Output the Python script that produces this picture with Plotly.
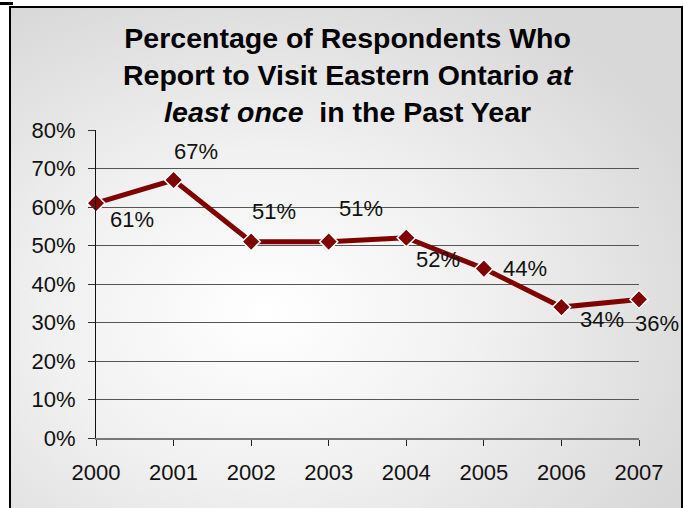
import plotly.graph_objects as go
import base64

years = [2000, 2001, 2002, 2003, 2004, 2005, 2006, 2007]
share_pct = [61, 67, 51, 51, 52, 44, 34, 36]
y_ticks = [0, 10, 20, 30, 40, 50, 60, 70, 80]
y_tick_labels = [f"{v}%" for v in y_ticks]

# label offsets (pixels) relative to each marker
label_dx = [36, 22, 23, 32, 32, 41, 41, 18]
label_dy = [-16, 29, 30, 33, -22, 0, -12, -24]

W, H = 684, 508
L, R, T, B = 96, 45, 130, 70
PW, PH = W - L - R, H - T - B

def fx(px):
    return (px - L) / PW

def fy(py):
    return 1 - (py - T) / PH

FONT = "Liberation Sans, Arial, sans-serif"
LINE = "#7f0000"

# soft radial backdrop for the chart frame
svg = (
    '<svg xmlns="http://www.w3.org/2000/svg" width="672" height="510" viewBox="0 0 672 510" preserveAspectRatio="none">'
    '<defs><radialGradient id="g" cx="0.38" cy="0.6" r="0.7">'
    '<stop offset="0" stop-color="#ffffff"/>'
    '<stop offset="0.45" stop-color="#f1f1f1"/>'
    '<stop offset="1" stop-color="#d8d8d8"/>'
    '</radialGradient></defs>'
    '<rect width="672" height="510" fill="url(#g)"/></svg>'
)
bg_src = "data:image/svg+xml;base64," + base64.b64encode(svg.encode()).decode()

fig = go.Figure()
fig.add_trace(go.Scatter(
    x=years, y=share_pct, mode="lines+markers",
    line=dict(color=LINE, width=5),
    marker=dict(symbol="diamond", size=14, color=LINE,
                line=dict(color="white", width=1.5)),
    cliponaxis=False, hoverinfo="skip", showlegend=False,
))

annotations = []
for x, v, dx, dy in zip(years, share_pct, label_dx, label_dy):
    annotations.append(dict(
        x=x, y=v, xref="x", yref="y", text=f"{v}%", showarrow=False,
        xshift=dx, yshift=dy, font=dict(family=FONT, size=22, color="#111111"),
    ))

annotations.append(dict(
    x=fx(348), y=fy(75), xref="paper", yref="paper", showarrow=False,
    xanchor="center", yanchor="middle",
    text="<b>Percentage of Respondents Who<br>Report to Visit Eastern Ontario <i>at</i><br>"
         "<i>least once</i>  in the Past Year</b>",
    font=dict(family=FONT, size=28.5, color="#000000"),
))

shapes = [
    # chart frame
    dict(type="rect", xref="paper", yref="paper",
         x0=fx(10), x1=fx(682), y0=fy(540), y1=fy(7),
         line=dict(color="#000000", width=2), fillcolor="rgba(0,0,0,0)", layer="above"),
    dict(type="rect", xref="paper", yref="paper",
         x0=fx(0), x1=fx(13), y0=fy(5), y1=fy(2),
         line=dict(width=0), fillcolor="#000000", layer="above"),
]

fig.update_layout(
    width=W, height=H,
    margin=dict(l=L, r=R, t=T, b=B),
    paper_bgcolor="white", plot_bgcolor="rgba(0,0,0,0)",
    font=dict(family=FONT, size=22, color="#000000"),
    images=[dict(source=bg_src, xref="paper", yref="paper",
                 x=fx(10), y=fy(7), sizex=fx(682) - fx(10), sizey=fy(7) - fy(517),
                 xanchor="left", yanchor="top", sizing="stretch", layer="below")],
    annotations=annotations,
    shapes=shapes,
    xaxis=dict(
        range=[2000, 2007], tickvals=years, ticktext=[str(y) for y in years],
        showgrid=False, zeroline=False,
        showline=True, linecolor="#777777", linewidth=2,
        ticks="outside", ticklen=6, tickcolor="#222222", tickwidth=1,
        ticklabelstandoff=8, tickfont=dict(family=FONT, size=22, color="#111111"),
    ),
    yaxis=dict(
        range=[0, 80], tickvals=y_ticks, ticktext=y_tick_labels,
        showgrid=True, gridcolor="#555555", gridwidth=1, zeroline=False,
        showline=True, linecolor="#111111", linewidth=1,
        ticks="outside", ticklen=7, tickcolor="#333333", tickwidth=1,
        ticklabelstandoff=8, tickfont=dict(family=FONT, size=22, color="#111111"),
    ),
)

fig.write_html("out.html")
